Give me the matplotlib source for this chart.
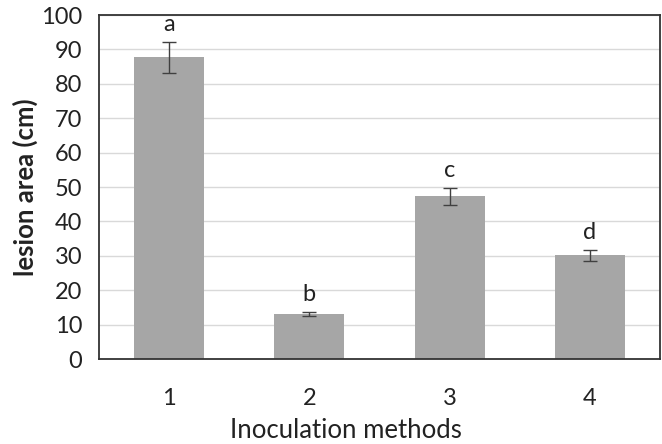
import matplotlib.pyplot as plt
import numpy as np

methods = ['1', '2', '3', '4']
lesion_area = [87.7, 13.1, 47.3, 30.1]
std_err = [4.5, 0.7, 2.4, 1.5]
letters = ['a', 'b', 'c', 'd']

plt.rcParams['font.family'] = ['Lato', 'DejaVu Sans']

fig = plt.figure(figsize=(6.62, 4.44), dpi=100)
ax = fig.add_axes([99 / 662, 1 - 359 / 444, 561 / 662, 344 / 444])

x = np.arange(len(methods))
ax.bar(x, lesion_area, width=0.5, color='#a6a6a6', zorder=2)
ax.errorbar(x, lesion_area, yerr=std_err, fmt='none', ecolor='#404040',
            elinewidth=1, capsize=5, capthick=1, zorder=3)

# significance letters above error bars
for xi, v, e, t in zip(x, lesion_area, std_err, letters):
    ax.annotate(t, (xi, v + e), xytext=(0, 5), textcoords='offset points',
                ha='center', va='bottom', fontsize=17, color='#222222')

ax.set_xlim(-0.5, 3.5)
ax.set_ylim(0, 100)
ax.set_yticks(range(0, 101, 10))
ax.set_xticks(x)
ax.set_xticklabels(methods)
ax.tick_params(axis='both', length=0, labelsize=17, colors='#222222')
ax.tick_params(axis='x', pad=21)
ax.tick_params(axis='y', pad=12)
ax.grid(axis='y', color='#d9d9d9', linewidth=1, zorder=0)

for s in ax.spines.values():
    s.set_color('#333333')
    s.set_linewidth(1.3)

ax.set_xlabel('Inoculation methods', fontsize=18.5, color='#222222')
ax.xaxis.set_label_coords(0.44, -0.172)
ax.set_ylabel('lesion area (cm)', fontsize=18.5, fontweight='bold', color='#222222', labelpad=2)

plt.savefig('out.png', dpi=100)
